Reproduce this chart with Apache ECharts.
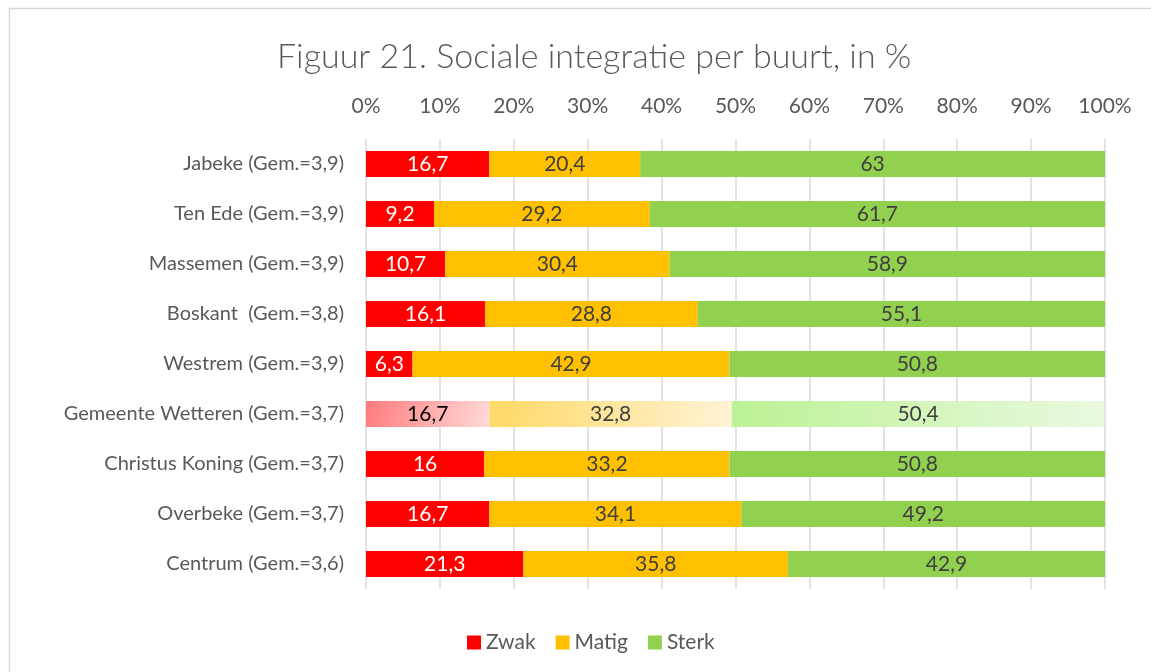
<!DOCTYPE html>
<html>
<head>
<meta charset="utf-8">
<script src="https://cdn.jsdelivr.net/npm/echarts@6/dist/echarts.min.js"></script>
<style>
  html, body { margin: 0; padding: 0; background: #fff; }
  #chart { width: 1151px; height: 672px; }
</style>
</head>
<body>
<div id="chart"></div>
<script>
// buurten, van boven naar onder
var buurten = [
  'Jabeke (Gem.=3,9)',
  'Ten Ede (Gem.=3,9)',
  'Massemen (Gem.=3,9)',
  'Boskant  (Gem.=3,8)',
  'Westrem (Gem.=3,9)',
  'Gemeente Wetteren (Gem.=3,7)',
  'Christus Koning (Gem.=3,7)',
  'Overbeke (Gem.=3,7)',
  'Centrum (Gem.=3,6)'
];
var zwak  = [16.7, 9.2, 10.7, 16.1, 6.3, 16.7, 16, 16.7, 21.3];
var matig = [20.4, 29.2, 30.4, 28.8, 42.9, 32.8, 33.2, 34.1, 35.8];
var sterk = [63, 61.7, 58.9, 55.1, 50.8, 50.4, 50.8, 49.2, 42.9];
var gemeenteIdx = 5;

var font = 'Lato, sans-serif';

// gemeente-rij krijgt een verloop
function grad(c1, c2) {
  return new echarts.graphic.LinearGradient(0, 0, 1, 1, [
    { offset: 0, color: c1 },
    { offset: 1, color: c2 }
  ]);
}
function rows(vals, c1, c2, lblColor) {
  return vals.map(function (v, i) {
    if (i !== gemeenteIdx) return v;
    return {
      value: v,
      itemStyle: { color: grad(c1, c2) },
      label: { color: lblColor }
    };
  });
}
function komma(p) {
  return String(p.value).replace('.', ',');
}

var myChart = echarts.init(document.getElementById('chart'));
myChart.setOption({
  animation: false,
  textStyle: { fontFamily: font },
  title: {
    text: 'Figuur 21. Sociale integratie per buurt, in %',
    left: 272,
    top: 35,
    textStyle: { fontFamily: font, fontSize: 34, fontWeight: 300, color: '#595959' }
  },
  graphic: [{
    type: 'rect',
    shape: { x: 9.5, y: 8.5, width: 1200, height: 700 },
    style: { fill: 'none', stroke: '#d9d9d9', lineWidth: 1.5 },
    silent: true
  }],
  legend: {
    bottom: 14,
    left: 462,
    itemWidth: 14,
    itemHeight: 14,
    itemGap: 20,
    icon: 'rect',
    textStyle: { fontSize: 21, color: '#595959', fontFamily: font },
    data: ['Zwak', 'Matig', 'Sterk']
  },
  grid: { left: 366, right: 46, top: 139, height: 450 },
  xAxis: {
    type: 'value',
    position: 'top',
    min: 0,
    max: 100,
    interval: 10,
    axisLine: { show: false },
    axisTick: { show: false },
    axisLabel: {
      formatter: '{value}%',
      fontSize: 21,
      color: '#595959',
      margin: 22
    },
    splitLine: { lineStyle: { color: '#d9d9d9', width: 1.5 } }
  },
  yAxis: {
    type: 'category',
    inverse: true,
    data: buurten,
    axisLine: { show: false },
    axisTick: { show: false },
    axisLabel: { fontSize: 20, color: '#595959', margin: 22 }
  },
  series: [
    {
      name: 'Zwak', type: 'bar', stack: 'tot', barWidth: 26,
      itemStyle: { color: '#FF0000' },
      label: { show: true, position: 'inside', color: '#fff', fontSize: 21, formatter: komma },
      data: rows(zwak, '#FF7C7C', '#FFD9D9', '#000')
    },
    {
      name: 'Matig', type: 'bar', stack: 'tot', barWidth: 26,
      itemStyle: { color: '#FFC000' },
      label: { show: true, position: 'inside', color: '#404040', fontSize: 21, formatter: komma },
      data: rows(matig, '#FFD966', '#FFF3D6', '#404040')
    },
    {
      name: 'Sterk', type: 'bar', stack: 'tot', barWidth: 26,
      itemStyle: { color: '#92D050' },
      label: { show: true, position: 'inside', color: '#404040', fontSize: 21, formatter: komma },
      data: rows(sterk, '#BBF294', '#EAF9E0', '#404040')
    }
  ]
});
</script>
</body>
</html>
